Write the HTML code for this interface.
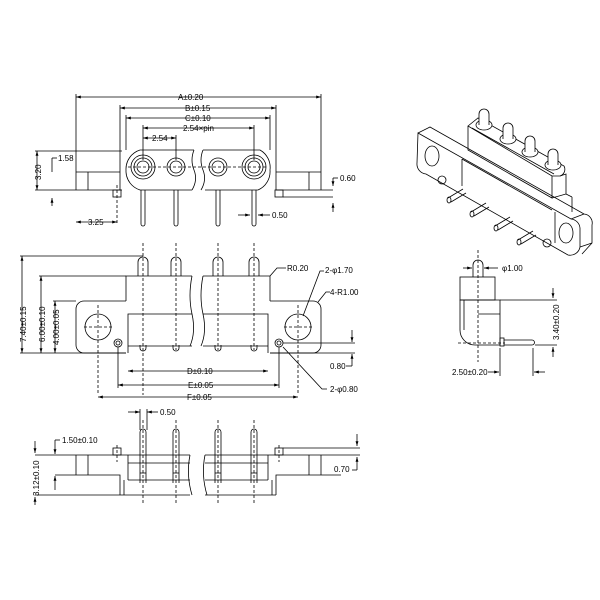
<!DOCTYPE html>
<html><head><meta charset="utf-8"><style>
body{margin:0;background:#fff}
svg{display:block}
text{font-family:"Liberation Sans",sans-serif;font-size:8px;fill:#000}
</style></head><body>
<svg width="600" height="600" viewBox="0 0 600 600" xmlns="http://www.w3.org/2000/svg">
<defs>
<marker id="a" viewBox="0 0 10 10" refX="10" refY="5" markerWidth="6" markerHeight="6" orient="auto-start-reverse"><path d="M0,2 L10,5 L0,8z" fill="#000"/></marker>
</defs>
<g stroke="#000" stroke-width="0.8" fill="none">
<!-- TOP VIEW -->
<g marker-start="url(#a)" marker-end="url(#a)">
<line x1="76" y1="97" x2="321" y2="97"/>
<line x1="120" y1="108" x2="276" y2="108"/>
<line x1="126" y1="118" x2="270" y2="118"/>
<line x1="143" y1="128" x2="254" y2="128"/>
<line x1="143" y1="138" x2="176" y2="138"/>
<line x1="37" y1="151" x2="37" y2="190"/>
<line x1="76" y1="222" x2="117" y2="222"/>
</g>
<line x1="76" y1="94" x2="76" y2="190"/><line x1="321" y1="94" x2="321" y2="190"/>
<line x1="120" y1="105" x2="120" y2="151"/><line x1="276" y1="105" x2="276" y2="151"/>
<line x1="126" y1="115" x2="126" y2="150"/><line x1="270" y1="115" x2="270" y2="150"/>
<line x1="143" y1="125" x2="143" y2="160"/><line x1="254" y1="125" x2="254" y2="160"/>
<line x1="176" y1="135" x2="176" y2="160"/>
<line x1="35" y1="151" x2="122" y2="151"/>
<line x1="35" y1="190" x2="122" y2="190"/>
<line x1="76" y1="172" x2="120" y2="172"/><line x1="88" y1="172" x2="88" y2="190"/>
<line x1="276" y1="172" x2="321" y2="172"/><line x1="309" y1="172" x2="309" y2="190"/>
<line x1="276" y1="190" x2="333" y2="190"/>
<line x1="120" y1="151" x2="120" y2="190"/><line x1="276" y1="151" x2="276" y2="190"/>
<path d="M194,150 L140,150 A20,20 0 0 0 126,170 L126,172 A20,20 0 0 0 140,190 L192,190" />
<path d="M203,150 L260,150 A20,20 0 0 1 270,170 A20,20 0 0 1 258,190 L205,190"/>
<path d="M194,150 q-4,10 0,20 q4,10 -2,20" /><path d="M203,150 q-4,10 0,20 q4,10 -2,20"/>
<line x1="52" y1="158" x2="52" y2="172"/><line x1="52" y1="158" x2="57" y2="158"/>
<line x1="52" y1="198" x2="52" y2="206" marker-start="url(#a)"/>
<g>
<circle cx="143" cy="167" r="12"/><circle cx="143" cy="167" r="9"/><circle cx="143" cy="167" r="6"/>
<circle cx="176" cy="167" r="9"/><circle cx="176" cy="167" r="6"/>
<circle cx="218" cy="167" r="9"/><circle cx="218" cy="167" r="6"/>
<circle cx="254" cy="167" r="12"/><circle cx="254" cy="167" r="9"/><circle cx="254" cy="167" r="6"/>
</g>
<line x1="128" y1="167" x2="268" y2="167" stroke-dasharray="3,2"/>
<g>
<path d="M141,190 L141,224 A2,2 0 0 0 145,224 L145,190"/>
<path d="M174,190 L174,224 A2,2 0 0 0 178,224 L178,190"/>
<path d="M216,190 L216,224 A2,2 0 0 0 220,224 L220,190"/>
<path d="M252,190 L252,224 A2,2 0 0 0 256,224 L256,190"/>
<rect x="113" y="190" width="8" height="7"/><rect x="275" y="190" width="8" height="7"/>
</g>
<line x1="117" y1="185" x2="117" y2="225" stroke-dasharray="3,2"/>
<line x1="333" y1="178" x2="333" y2="186" marker-end="url(#a)"/><line x1="333" y1="178" x2="338" y2="178"/>
<line x1="283" y1="197" x2="333" y2="197"/><line x1="333" y1="203" x2="333" y2="212" marker-start="url(#a)"/>
<line x1="238" y1="215" x2="250" y2="215" marker-end="url(#a)"/><line x1="270" y1="215" x2="258" y2="215" marker-end="url(#a)"/>

<!-- FRONT VIEW -->
<g stroke-dasharray="3,2">
<line x1="143" y1="243" x2="143" y2="395"/><line x1="176" y1="243" x2="176" y2="350"/>
<line x1="218" y1="243" x2="218" y2="350"/><line x1="254" y1="243" x2="254" y2="350"/>
<line x1="98" y1="305" x2="98" y2="395"/><line x1="298" y1="305" x2="298" y2="395"/>
<line x1="84" y1="327" x2="112" y2="327"/><line x1="284" y1="327" x2="312" y2="327"/>
</g>
<path d="M138,276 L138,262 A5,5 0 0 1 148,262 L148,276"/>
<path d="M171,276 L171,262 A5,5 0 0 1 181,262 L181,276"/>
<path d="M213,276 L213,262 A5,5 0 0 1 223,262 L223,276"/>
<path d="M249,276 L249,262 A5,5 0 0 1 259,262 L259,276"/>
<path d="M192,276 L126,276 L126,301"/><path d="M203,276 L270,276 L270,301"/>
<path d="M126,301 L84,301 A8,8 0 0 0 76,309 L76,345 A8,8 0 0 0 84,353 L126,353"/>
<path d="M270,301 L313,301 A8,8 0 0 1 321,309 L321,345 A8,8 0 0 1 313,353 L270,353"/>
<path d="M192,314 L128,314 L128,353"/><path d="M203,314 L268,314 L268,353"/>
<line x1="128" y1="346" x2="192" y2="346"/><line x1="203" y1="346" x2="268" y2="346"/>
<path d="M192,276 q-4,20 0,38 q4,18 -2,32"/><path d="M203,276 q-4,20 0,38 q4,18 -2,32"/>
<circle cx="98" cy="327" r="13"/><circle cx="298" cy="327" r="13"/>
<circle cx="118" cy="343" r="4"/><circle cx="118" cy="343" r="2"/>
<circle cx="279" cy="343" r="4"/><circle cx="279" cy="343" r="2"/>
<path d="M140,345 L140,348 A3,3 0 0 0 146,348 L146,345"/>
<path d="M173,345 L173,348 A3,3 0 0 0 179,348 L179,345"/>
<path d="M215,345 L215,348 A3,3 0 0 0 221,348 L221,345"/>
<path d="M251,345 L251,348 A3,3 0 0 0 257,348 L257,345"/>
<g marker-start="url(#a)" marker-end="url(#a)">
<line x1="22" y1="256" x2="22" y2="353"/><line x1="41" y1="276" x2="41" y2="353"/><line x1="55" y1="301" x2="55" y2="353"/>
<line x1="128" y1="371" x2="268" y2="371"/><line x1="118" y1="385" x2="279" y2="385"/><line x1="98" y1="397" x2="298" y2="397"/>
</g>
<line x1="20" y1="256" x2="143" y2="256"/><line x1="39" y1="276" x2="126" y2="276"/><line x1="53" y1="301" x2="76" y2="301"/>
<line x1="20" y1="353" x2="126" y2="353"/>
<line x1="270" y1="353" x2="355" y2="353"/><line x1="283" y1="343" x2="355" y2="343"/>
<line x1="118" y1="347" x2="118" y2="388"/><line x1="279" y1="347" x2="279" y2="388"/>
<line x1="352" y1="330" x2="352" y2="342" marker-end="url(#a)"/><line x1="352" y1="366" x2="352" y2="354" marker-end="url(#a)"/>
<line x1="352" y1="366" x2="346" y2="366"/>
<path d="M270,276 L277,268 L286,268"/>
<path d="M303,316 L320,271 L324,271"/>
<path d="M318,302 L326,292 L330,292"/>
<path d="M283,347 L322,389 L327,389"/>

<!-- BOTTOM VIEW -->
<line x1="128" y1="412" x2="140" y2="412" marker-end="url(#a)"/><line x1="158" y1="412" x2="147" y2="412" marker-end="url(#a)"/>
<line x1="140" y1="409" x2="140" y2="430"/><line x1="147" y1="409" x2="147" y2="430"/>
<g stroke-dasharray="3,2">
<line x1="143" y1="420" x2="143" y2="505"/><line x1="176" y1="420" x2="176" y2="505"/>
<line x1="218" y1="420" x2="218" y2="505"/><line x1="254" y1="420" x2="254" y2="505"/>
<line x1="117" y1="445" x2="117" y2="462"/><line x1="279" y1="445" x2="279" y2="462"/>
</g>
<path d="M140,483 L140,432 A3,3 0 0 1 146,432 L146,483"/>
<path d="M173,483 L173,432 A3,3 0 0 1 179,432 L179,483"/>
<path d="M215,483 L215,432 A3,3 0 0 1 221,432 L221,483"/>
<path d="M251,483 L251,432 A3,3 0 0 1 257,432 L257,483"/>
<line x1="140" y1="473" x2="146" y2="473"/><line x1="173" y1="473" x2="179" y2="473"/>
<line x1="215" y1="473" x2="221" y2="473"/><line x1="251" y1="473" x2="257" y2="473"/>
<line x1="35" y1="455" x2="190" y2="455"/><line x1="205" y1="455" x2="360" y2="455"/>
<line x1="128" y1="463" x2="190" y2="463"/><line x1="205" y1="463" x2="268" y2="463"/>
<line x1="128" y1="480" x2="190" y2="480"/><line x1="205" y1="480" x2="268" y2="480"/>
<line x1="76" y1="455" x2="76" y2="475"/><line x1="88" y1="455" x2="88" y2="475"/>
<line x1="309" y1="455" x2="309" y2="475"/><line x1="321" y1="455" x2="321" y2="475"/>
<path d="M55,475 L120,475 L120,495"/><path d="M341,475 L276,475 L276,495"/>
<line x1="124" y1="480" x2="124" y2="495"/><line x1="272" y1="480" x2="272" y2="495"/>
<line x1="128" y1="455" x2="128" y2="480"/><line x1="268" y1="455" x2="268" y2="480"/>
<line x1="35" y1="495" x2="190" y2="495"/><line x1="205" y1="495" x2="276" y2="495"/>
<path d="M190,455 q-4,20 2,40"/><path d="M205,455 q-4,20 2,40"/>
<rect x="113" y="448" width="8" height="7"/><rect x="275" y="448" width="8" height="7"/>
<line x1="35" y1="441" x2="35" y2="453" marker-end="url(#a)"/><line x1="35" y1="505" x2="35" y2="497" marker-end="url(#a)"/>
<line x1="55" y1="440" x2="55" y2="454" marker-end="url(#a)"/><line x1="55" y1="440" x2="60" y2="440"/>
<line x1="55" y1="490" x2="55" y2="476" marker-end="url(#a)"/>
<line x1="283" y1="448" x2="360" y2="448"/>
<line x1="357" y1="434" x2="357" y2="446" marker-end="url(#a)"/><line x1="357" y1="470" x2="357" y2="457" marker-end="url(#a)"/>
<line x1="352" y1="470" x2="357" y2="470"/>

<!-- ISO VIEW -->
<path d="M418,133 L430,127 L584,214 A9,9 0 0 1 592,225 L592,243 L582,254"/>
<path d="M418,133 L571,219 A10,10 0 0 1 580,228 L580,247 A10,10 0 0 1 568,255 L426,174 A10,10 0 0 1 417,163 Z"/>
<line x1="571" y1="219" x2="584" y2="214"/><line x1="580" y1="247" x2="592" y2="243"/>
<ellipse cx="432" cy="156" rx="7" ry="10"/><ellipse cx="566" cy="233" rx="7" ry="10"/>
<path d="M462,159 L462,186"/><path d="M462,159 L552,210"/><path d="M555,212 L555,243"/>
<!-- upper body -->
<path d="M468,126 L478,118 L564,166 A7,7 0 0 1 560,176 L552,176 Z"/>
<path d="M468,126 L468,150 L552,198 L552,176"/>
<path d="M560,176 L566,174 L566,194 L552,198"/>
<line x1="566" y1="194" x2="572" y2="197"/><line x1="572" y1="197" x2="572" y2="212"/>
<line x1="472" y1="128" x2="554" y2="174"/>
<g fill="#fff">
<ellipse cx="484" cy="125" rx="8" ry="5"/><path d="M479,125 L479,114 A5,5 0 0 1 489,114 L489,125"/>
<ellipse cx="508" cy="139" rx="8" ry="5"/><path d="M503,139 L503,128 A5,5 0 0 1 513,128 L513,139"/>
<ellipse cx="530" cy="152" rx="8" ry="5"/><path d="M525,152 L525,141 A5,5 0 0 1 535,141 L535,152"/>
<ellipse cx="553" cy="165" rx="8" ry="5"/><path d="M548,165 L548,154 A5,5 0 0 1 558,154 L558,165"/>
</g>
<circle cx="442" cy="180" r="4"/><circle cx="547" cy="243" r="4"/>
<g>
<path d="M463,189 L448,198 M466,193 L451,202"/><ellipse cx="449" cy="200" rx="2" ry="3"/>
<path d="M486,203 L471,212 M489,207 L474,216"/><ellipse cx="472" cy="214" rx="2" ry="3"/>
<path d="M510,217 L495,226 M513,221 L498,230"/><ellipse cx="496" cy="228" rx="2" ry="3"/>
<path d="M533,231 L518,240 M536,235 L521,244"/><ellipse cx="519" cy="242" rx="2" ry="3"/>
</g>

<!-- SIDE VIEW -->
<line x1="478" y1="250" x2="478" y2="362" stroke-dasharray="3,2"/>
<line x1="458" y1="343" x2="505" y2="343" stroke-dasharray="3,2"/>
<path d="M473,277 L473,265 A5,5 0 0 1 483,265 L483,277"/>
<rect x="460" y="277" width="35" height="23"/>
<path d="M460,300 L460,330 A15,15 0 0 0 475,345 L500,345 L500,300 Z"/>
<line x1="464" y1="300" x2="464" y2="330"/><line x1="478" y1="314" x2="500" y2="314"/>
<rect x="500" y="338" width="4" height="8"/>
<path d="M504,340 L532,340 A2,2 0 0 1 532,345 L504,345"/>
<line x1="463" y1="268" x2="472" y2="268" marker-end="url(#a)"/><line x1="498" y1="268" x2="484" y2="268" marker-end="url(#a)"/>
<line x1="500" y1="300" x2="557" y2="300"/><line x1="535" y1="345" x2="557" y2="345"/>
<line x1="553" y1="288" x2="553" y2="298" marker-end="url(#a)"/><line x1="553" y1="357" x2="553" y2="347" marker-end="url(#a)"/>
<line x1="500" y1="348" x2="500" y2="376"/><line x1="533" y1="348" x2="533" y2="376"/>
<line x1="488" y1="372" x2="499" y2="372" marker-end="url(#a)"/><line x1="545" y1="372" x2="534" y2="372" marker-end="url(#a)"/>
</g>
<g>
<text x="178" y="100">A±0.20</text>
<text x="185" y="111">B±0.15</text>
<text x="185" y="121">C±0.10</text>
<text x="183" y="131">2.54×pin</text>
<text x="152" y="141">2.54</text>
<text x="58" y="161">1.58</text>
<text x="41" y="180" transform="rotate(-90 41 180)">3.20</text>
<text x="88" y="225">3.25</text>
<text x="340" y="181">0.60</text>
<text x="272" y="218">0.50</text>
<text x="26" y="342" transform="rotate(-90 26 342)">7.40±0.15</text>
<text x="45" y="342" transform="rotate(-90 45 342)">6.00±0.10</text>
<text x="59" y="345" transform="rotate(-90 59 345)">4.00±0.05</text>
<text x="287" y="271">R0.20</text>
<text x="325" y="273">2-φ1.70</text>
<text x="330" y="295">4-R1.00</text>
<text x="330" y="369">0.80</text>
<text x="330" y="392">2-φ0.80</text>
<text x="187" y="374">D±0.10</text>
<text x="188" y="388">E±0.05</text>
<text x="187" y="400">F±0.05</text>
<text x="160" y="415">0.50</text>
<text x="62" y="443">1.50±0.10</text>
<text x="39" y="496" transform="rotate(-90 39 496)">3.12±0.10</text>
<text x="334" y="472">0.70</text>
<text x="502" y="271">φ1.00</text>
<text x="559" y="340" transform="rotate(-90 559 340)">3.40±0.20</text>
<text x="452" y="375">2.50±0.20</text>
</g>
</svg>
</body></html>
